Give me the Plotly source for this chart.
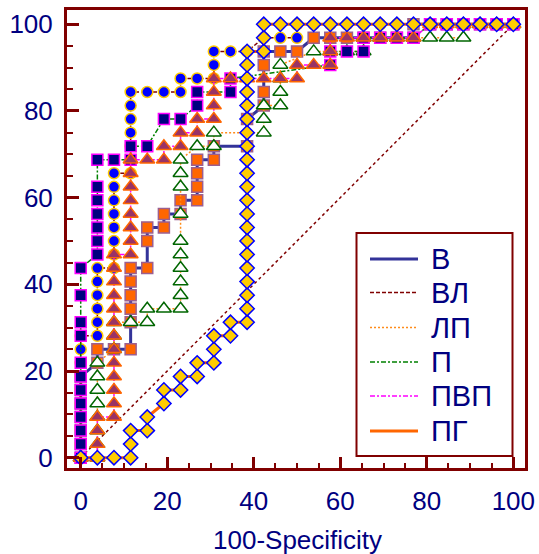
import plotly.graph_objects as go

# ---------------- data ----------------
series_names = ["В", "ВЛ", "ЛП", "П", "ПВП", "ПГ"]

ref_x = [0, 100]
ref_y = [0, 100]

v_x = [0, 0, 0, 0, 0, 0, 0, 3.85, 3.85, 7.69, 11.54, 11.54, 11.54, 11.54, 11.54, 11.54,
       15.38, 15.38, 15.38, 19.23, 19.23, 23.08, 23.08, 26.92, 26.92, 26.92, 26.92, 30.77, 30.77,
       38.46, 38.46, 42.31, 42.31, 42.31, 42.31, 46.15, 50, 53.85, 57.69, 61.54, 65.38, 69.23,
       73.08, 76.92, 76.92, 80.77, 84.62, 88.46, 92.31, 96.15, 100]
v_y = [0, 3.13, 6.25, 9.38, 12.5, 15.63, 18.75, 21.88, 25, 25, 25, 31.25, 34.38, 37.5, 40.63, 43.75,
       43.75, 50, 53.13, 53.13, 56.25, 56.25, 59.38, 59.38, 62.5, 65.63, 68.75, 68.75, 71.88,
       71.88, 78.13, 81.25, 84.38, 90.63, 93.75, 93.75, 93.75, 96.88, 96.88, 96.88, 96.88, 96.88,
       96.88, 96.88, 100, 100, 100, 100, 100, 100, 100]

vl_x = [0, 0, 0, 0, 0, 0, 0, 0, 0, 0, 3.85, 3.85, 3.85, 3.85, 3.85, 3.85,
        7.69, 7.69, 7.69, 7.69, 7.69, 7.69, 7.69, 7.69, 11.54, 11.54, 11.54, 11.54, 11.54, 11.54, 11.54,
        15.38, 19.23, 23.08, 23.08, 26.92, 30.77, 30.77, 30.77, 34.62, 38.46, 42.31, 46.15, 50, 50,
        53.85, 57.69, 61.54, 65.38, 69.23, 73.08, 76.92, 80.77, 84.62, 88.46, 92.31, 96.15, 100]
vl_y = [0, 3.13, 6.25, 9.38, 12.5, 15.63, 18.75, 21.88, 25, 28.13, 28.13, 31.25, 34.38, 37.5, 40.63, 43.75,
        43.75, 46.88, 50, 53.13, 56.25, 59.38, 62.5, 65.63, 65.63, 68.75, 71.88, 75, 78.13, 81.25, 84.38,
        84.38, 84.38, 84.38, 87.5, 87.5, 87.5, 90.63, 93.75, 93.75, 93.75, 96.88, 96.88, 96.88, 100,
        100, 100, 100, 100, 100, 100, 100, 100, 100, 100, 100, 100, 100]

lp_x = [0, 3.85, 3.85, 3.85, 3.85, 3.85, 3.85, 3.85, 3.85, 7.69, 7.69, 7.69, 11.54, 15.38,
        15.38, 19.23, 23.08, 23.08, 23.08, 23.08, 23.08, 23.08, 23.08, 23.08, 23.08, 23.08,
        26.92, 30.77, 30.77, 42.31, 42.31, 42.31, 46.15, 46.15, 46.15, 46.15,
        53.85, 57.69, 61.54, 65.38, 65.38, 69.23, 73.08, 76.92, 80.77, 84.62, 88.46,
        88.46, 92.31, 96.15, 100]
lp_y = [0, 0, 3.13, 6.25, 9.38, 12.5, 15.63, 18.75, 21.88, 25, 28.13, 31.25, 31.25, 31.25,
        34.38, 34.38, 34.38, 37.5, 40.63, 43.75, 46.88, 50, 56.25, 62.5, 65.63, 68.75,
        71.88, 71.88, 75, 75, 78.13, 81.25, 81.25, 84.38, 87.5, 90.63,
        93.75, 93.75, 93.75, 93.75, 96.88, 96.88, 96.88, 96.88, 96.88, 96.88, 96.88,
        100, 100, 100, 100]

p_x = [0, 0, 0, 0, 0, 0, 0, 0, 0, 0, 0, 0, 3.85, 3.85, 3.85, 3.85, 3.85, 3.85, 3.85,
       7.69, 11.54, 11.54, 15.38, 19.23, 23.08, 26.92, 26.92, 34.62, 34.62, 57.69, 57.69,
       61.54, 65.38, 65.38, 69.23, 73.08, 76.92, 80.77, 84.62, 88.46, 92.31, 96.15, 100]
p_y = [0, 3.13, 6.25, 9.38, 12.5, 15.63, 18.75, 21.88, 28.13, 31.25, 37.5, 43.75,
       46.88, 50, 53.13, 56.25, 59.38, 62.5, 68.75, 68.75, 68.75, 71.88, 71.88, 78.13, 78.13,
       81.25, 84.38, 84.38, 87.5, 90.63, 93.75, 93.75, 93.75, 96.88, 96.88, 96.88, 96.88,
       100, 100, 100, 100, 100, 100]

pvp_x = [0, 3.85, 3.85, 3.85, 3.85,
         7.69, 7.69, 7.69, 7.69, 7.69, 7.69, 7.69, 7.69, 7.69, 7.69, 7.69, 7.69, 7.69,
         11.54, 11.54, 11.54, 11.54, 11.54, 11.54, 11.54, 11.54,
         15.38, 19.23, 19.23, 23.08, 23.08, 26.92, 26.92, 30.77, 30.77, 30.77, 30.77,
         34.62, 38.46, 42.31, 46.15, 50, 50, 53.85, 57.69, 57.69, 57.69,
         61.54, 65.38, 69.23, 73.08, 76.92, 80.77, 84.62, 88.46, 92.31, 96.15, 100]
pvp_y = [0, 0, 3.13, 6.25, 9.38,
         9.38, 12.5, 15.63, 18.75, 21.88, 25, 28.13, 31.25, 34.38, 37.5, 40.63, 43.75, 46.88,
         46.88, 50, 53.13, 56.25, 59.38, 62.5, 65.63, 68.75,
         68.75, 68.75, 71.88, 71.88, 75, 75, 78.13, 78.13, 81.25, 84.38, 87.5,
         87.5, 87.5, 87.5, 87.5, 87.5, 90.63, 90.63, 90.63, 93.75, 96.88,
         96.88, 96.88, 96.88, 96.88, 96.88, 100, 100, 100, 100, 100, 100]

pg_x = [0, 3.85, 7.69, 11.54, 11.54, 11.54, 15.38, 15.38, 19.23, 19.23, 23.08, 23.08,
        26.92, 26.92, 30.77, 30.77, 30.77, 34.62, 34.62,
        38.46, 38.46, 38.46, 38.46, 38.46, 38.46, 38.46, 38.46, 38.46, 38.46, 38.46,
        38.46, 38.46, 38.46, 38.46, 38.46, 38.46, 38.46, 38.46, 38.46, 38.46,
        42.31, 42.31, 42.31, 46.15, 50, 53.85, 57.69, 61.54, 65.38, 69.23, 73.08, 76.92,
        80.77, 84.62, 88.46, 92.31, 96.15, 100]
pg_y = [0, 0, 0, 0, 3.13, 6.25, 6.25, 9.38, 12.5, 15.63, 15.63, 18.75,
        18.75, 21.88, 21.88, 25, 28.13, 28.13, 31.25,
        31.25, 34.38, 37.5, 40.63, 43.75, 46.88, 50, 53.13, 56.25, 59.38, 62.5,
        65.63, 68.75, 71.88, 75, 78.13, 81.25, 84.38, 87.5, 90.63, 93.75,
        93.75, 96.88, 100, 100, 100, 100, 100, 100, 100, 100, 100, 100,
        100, 100, 100, 100, 100, 100]

x_tick_vals = [0, 20, 40, 60, 80, 100]
y_tick_vals = [0, 20, 40, 60, 80, 100]
x_title = "100-Specificity"

# ---------------- styles ----------------
FONT = "Liberation Sans, Arial, sans-serif"
NAVY = "#000080"
FRAME = "#800000"

styles = [
    dict(line=dict(color="#333399", width=3, dash="solid"),
         marker=dict(symbol="square", size=11, color="#ff6600", line=dict(color="#9c5f8f", width=1.5))),
    dict(line=dict(color="#800000", width=1.5, dash="4px,2px"),
         marker=dict(symbol="circle", size=11, color="#0000ff", line=dict(color="#ffcc00", width=1.5))),
    dict(line=dict(color="#ff8c1a", width=1.5, dash="2px,2px"),
         marker=dict(symbol="triangle-up", size=13, color="#ffffff", line=dict(color="#006600", width=1.5))),
    dict(line=dict(color="#008000", width=1.5, dash="5px,2px,2px,2px"),
         marker=dict(symbol="square", size=11, color="#000080", line=dict(color="#ff00ff", width=1.5))),
    dict(line=dict(color="#ff00ff", width=1.5, dash="5px,2px,2px,2px"),
         marker=dict(symbol="triangle-up", size=13, color="#993366", line=dict(color="#ff6600", width=1.5))),
    dict(line=dict(color="#ff6600", width=3, dash="solid"),
         marker=dict(symbol="diamond", size=11, color="#ffcc00", line=dict(color="#0000ff", width=1.5))),
]

data_xy = [(v_x, v_y), (vl_x, vl_y), (lp_x, lp_y), (p_x, p_y), (pvp_x, pvp_y), (pg_x, pg_y)]

fig = go.Figure()
fig.add_trace(go.Scatter(x=ref_x, y=ref_y, mode="lines", showlegend=False,
                         line=dict(color="#800000", width=1.5, dash="dot"), hoverinfo="skip"))
for name, (xs, ys), st in zip(series_names, data_xy, styles):
    fig.add_trace(go.Scatter(x=xs, y=ys, mode="lines+markers", name=name, showlegend=False,
                             line=st["line"], marker=st["marker"]))

# ---------------- layout ----------------
L, R, T, B = 67, 14, 10, 86
W, H = 539, 554
pw, ph = W - L - R, H - T - B


def px_x(p):
    return (p - L) / pw


def px_y(p):
    return (H - B - p) / ph


# manual legend (line samples + text)
shapes = [dict(type="rect", xref="paper", yref="paper",
               x0=px_x(356.5), x1=px_x(512.5), y0=px_y(456), y1=px_y(233),
               line=dict(color=FRAME, width=2), fillcolor="white", layer="above")]
annotations = []
leg_rows = [259, 292.5, 327.5, 362, 396, 431]
for name, st, py in zip(series_names, styles, leg_rows):
    shapes.append(dict(type="line", xref="paper", yref="paper",
                       x0=px_x(370), x1=px_x(418), y0=px_y(py), y1=px_y(py),
                       line=dict(color=st["line"]["color"], width=st["line"]["width"] if st["line"]["width"] > 2 else 1.5,
                                 dash=st["line"]["dash"]), layer="above"))
    annotations.append(dict(text=name, xref="paper", yref="paper", x=px_x(429), y=px_y(py),
                            xanchor="left", yanchor="middle", showarrow=False,
                            font=dict(family=FONT, size=29, color=NAVY)))

# axis title as annotation below the plot
annotations.append(dict(text=x_title, xref="paper", yref="paper", x=px_x(297), y=px_y(540),
                        xanchor="center", yanchor="middle", showarrow=False,
                        font=dict(family=FONT, size=26, color=NAVY)))

axis_common = dict(showgrid=False, zeroline=False, showline=True, linecolor=FRAME, linewidth=3,
                   mirror=True, ticks="inside", tickcolor=FRAME, tickwidth=2.5, automargin=False,
                   tickfont=dict(family=FONT, size=26, color=NAVY))

fig.update_layout(
    width=W, height=H, margin=dict(l=L, r=R, t=T, b=B),
    paper_bgcolor="white", plot_bgcolor="white",
    showlegend=False,
    xaxis=dict(range=[-3.17, 102.7], tickvals=x_tick_vals, ticklen=11, ticklabelstandoff=8,
               minor=dict(dtick=5, tick0=0, ticks="inside", ticklen=5, tickwidth=2, tickcolor=FRAME),
               **axis_common),
    yaxis=dict(range=[-2.38, 103.3], tickvals=y_tick_vals, ticklen=12, ticklabelstandoff=6,
               minor=dict(dtick=5, tick0=0, ticks="inside", ticklen=6, tickwidth=2, tickcolor=FRAME),
               **axis_common),
    shapes=shapes, annotations=annotations,
)

fig.write_html("out.html", config={"displayModeBar": False},
               post_script="document.body.style.margin='0';document.body.style.overflow='hidden';")
